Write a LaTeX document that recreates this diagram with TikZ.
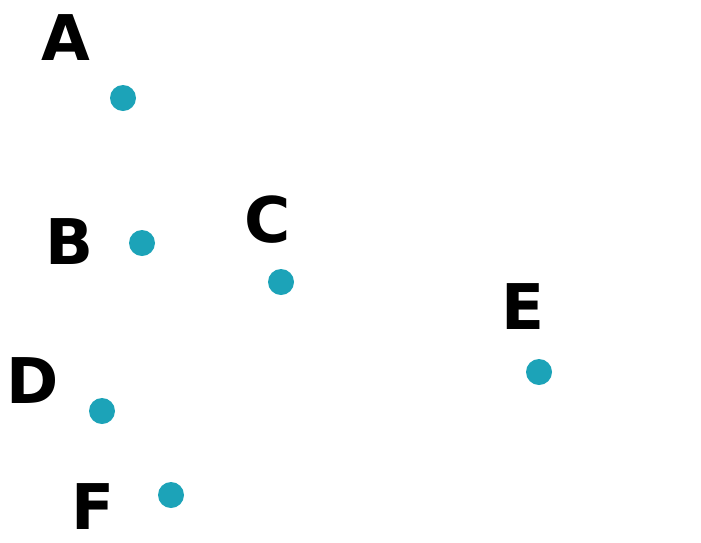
\documentclass[tikz,border=0pt]{standalone}
\usepackage{fontspec}
\setmainfont{DejaVu Sans}
\usepackage{xcolor}
\usepackage{tikz}
\usetikzlibrary{positioning}
\definecolor{dotteal}{RGB}{28,163,184}

\begin{document}
\begin{tikzpicture}[x=1pt, y=-1pt,
      dot/.style={circle, fill=dotteal, inner sep=0pt, minimum size=26pt},
      lab/.style={inner sep=0pt, font=\fontsize{63}{63}\selectfont\bfseries}]
    \useasboundingbox (0,0) rectangle (701,542);
    \node[dot] (dotA) at (123,98) {};
    \node[dot] (dotB) at (142,243) {};
    \node[dot] (dotC) at (281,282) {};
    \node[dot] (dotD) at (102,411) {};
    \node[dot] (dotE) at (539,372) {};
    \node[dot] (dotF) at (171,495) {};
    \node[lab] (labA) at (66,38) {A};
    \node[lab] (labB) at (70,242) {B};
    \node[lab] (labC) at (268,220) {C};
    \node[lab] (labD) at (33,381) {D};
    \node[lab] (labE) at (523,307) {E};
    \node[lab] (labF) at (93,507) {F};
  \end{tikzpicture}
\end{document}
